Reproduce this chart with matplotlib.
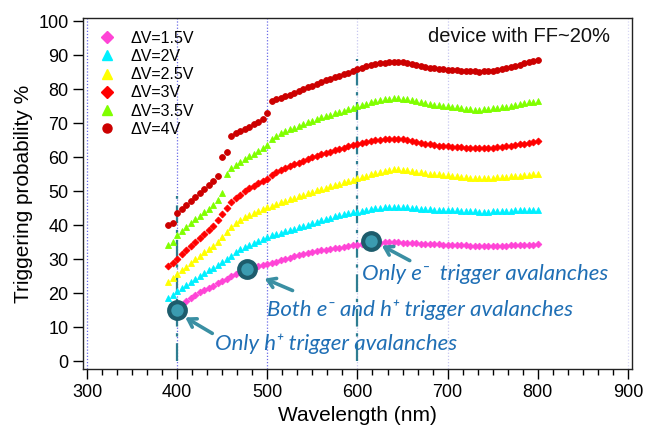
import matplotlib
matplotlib.use("Agg")
import matplotlib.pyplot as plt
from matplotlib.lines import Line2D
from matplotlib.ticker import MultipleLocator

plt.rcParams["font.family"] = ["Liberation Sans", "DejaVu Sans"]

# Wavelength grid (nm)
wavelength = list(range(390, 805, 5))
wavelength_15 = list(range(400, 805, 5))

p_1p5V = [15.0, 16.5, 17.6, 18.6, 19.5, 20.3, 21.0, 21.6, 22.2, 22.9,
          23.6, 24.3, 25.0, 25.6, 26.2, 26.8, 27.2, 27.6, 27.9, 28.2,
          28.5, 28.9, 29.3, 29.7, 30.1, 30.5, 30.8, 31.1, 31.4, 31.7,
          32.0, 32.3, 32.6, 32.8, 33.0, 33.2, 33.4, 33.6, 33.9, 34.1,
          34.3, 34.5, 34.6, 34.7, 34.8, 34.9, 35.0, 35.0, 35.0, 35.0,
          34.9, 34.9, 34.8, 34.7, 34.6, 34.5, 34.5, 34.4, 34.4, 34.3,
          34.3, 34.2, 34.2, 34.1, 34.1, 34.0, 34.0, 34.0, 33.9, 33.9,
          33.9, 34.0, 34.0, 34.0, 34.1, 34.1, 34.2, 34.2, 34.3, 34.3,
          34.4]

p_2V = [18.6, 19.6, 20.6, 21.6, 22.5, 23.4, 24.3, 25.1, 25.9, 26.7,
        27.5, 28.3, 29.1, 30.0, 31.0, 32.0, 32.9, 33.6, 34.3, 34.9,
        35.5, 36.0, 36.5, 37.0, 37.4, 37.8, 38.2, 38.6, 39.0, 39.4,
        39.8, 40.2, 40.6, 41.0, 41.4, 41.8, 42.2, 42.6, 42.9, 43.2,
        43.5, 43.8, 44.0, 44.3, 44.6, 44.8, 45.0, 45.1, 45.2, 45.3,
        45.4, 45.4, 45.3, 45.2, 45.1, 45.0, 44.9, 44.8, 44.7, 44.6,
        44.6, 44.5, 44.5, 44.4, 44.4, 44.3, 44.3, 44.2, 44.1, 44.0,
        43.9, 44.0, 44.1, 44.2, 44.2, 44.3, 44.3, 44.4, 44.4, 44.5,
        44.5, 44.6, 44.6]

p_2p5V = [23.4, 24.5, 25.6, 26.7, 27.8, 28.9, 30.0, 31.0, 32.0, 33.0,
          34.0, 35.1, 36.4, 38.0, 39.6, 40.6, 41.5, 42.3, 43.0, 43.6,
          44.2, 44.7, 45.2, 45.7, 46.2, 46.7, 47.2, 47.6, 48.1, 48.5,
          48.9, 49.4, 49.8, 50.2, 50.6, 51.0, 51.4, 51.8, 52.2, 52.6,
          53.0, 53.4, 53.8, 54.2, 54.6, 55.0, 55.4, 55.7, 56.0, 56.2,
          56.4, 56.4, 56.3, 56.1, 55.9, 55.7, 55.5, 55.3, 55.1, 55.0,
          54.9, 54.8, 54.7, 54.6, 54.5, 54.3, 54.2, 54.0, 53.9, 53.8,
          53.8, 53.9, 54.0, 54.1, 54.2, 54.3, 54.4, 54.5, 54.6, 54.7,
          54.8, 54.9, 55.0]

p_3V = [28.0, 28.8, 30.2, 31.4, 32.6, 33.8, 35.0, 36.2, 37.4, 38.6,
        39.9, 41.4, 43.2, 45.0, 46.8, 48.0, 49.0, 50.0, 50.8, 51.6,
        52.3, 53.0, 53.6, 54.8, 55.6, 56.2, 56.8, 57.4, 57.9, 58.4,
        58.9, 59.4, 59.9, 60.4, 60.8, 61.2, 61.6, 62.0, 62.4, 62.8,
        63.2, 63.6, 63.9, 64.2, 64.5, 64.7, 64.9, 65.1, 65.2, 65.3,
        65.4, 65.4, 65.3, 65.1, 64.8, 64.5, 64.2, 64.0, 63.8, 63.6,
        63.4, 63.3, 63.2, 63.1, 63.0, 62.9, 62.8, 62.7, 62.7, 62.6,
        62.6, 62.7, 62.8, 62.9, 63.0, 63.2, 63.4, 63.6, 63.8, 64.0,
        64.2, 64.4, 64.7]

p_3p5V = [34.2, 35.2, 37.0, 38.4, 39.6, 40.7, 41.8, 42.8, 43.8, 44.9,
          46.0, 47.3, 49.5, 55.0, 56.8, 57.8, 58.6, 59.4, 60.2, 61.0,
          61.8, 62.6, 63.6, 65.2, 66.2, 67.0, 67.6, 68.2, 68.7, 69.2,
          69.7, 70.2, 70.7, 71.2, 71.7, 72.1, 72.5, 72.9, 73.3, 73.7,
          74.1, 74.5, 74.9, 75.3, 75.7, 76.1, 76.5, 76.8, 77.0, 77.2,
          77.3, 77.3, 77.2, 77.0, 76.7, 76.4, 76.1, 75.8, 75.6, 75.4,
          75.2, 75.0, 74.9, 74.8, 74.6, 74.4, 74.2, 74.1, 74.0, 74.0,
          74.1, 74.2, 74.3, 74.4, 74.6, 74.8, 75.0, 75.3, 75.6, 75.9,
          76.1, 76.3, 76.6]

p_4V = [40.2, 40.5, 43.5, 44.8, 46.0, 47.1, 48.2, 49.4, 50.6, 51.8,
        53.0, 54.6, 60.0, 61.5, 66.3, 67.0, 67.6, 68.2, 68.9, 69.6,
        70.3, 71.2, 73.0, 76.5, 77.0, 77.5, 77.9, 78.4, 78.9, 79.5,
        80.0, 80.5, 81.0, 81.6, 82.2, 82.7, 83.1, 83.5, 83.9, 84.4,
        84.8, 85.3, 85.8, 86.3, 86.8, 87.2, 87.5, 87.7, 87.8, 87.9,
        88.0, 88.0, 87.9, 87.7, 87.4, 87.1, 86.8, 86.5, 86.3, 86.1,
        85.9, 85.8, 85.7, 85.6, 85.5, 85.4, 85.3, 85.2, 85.2, 85.1,
        85.2, 85.3, 85.4, 85.6, 85.8, 86.1, 86.4, 86.8, 87.2, 87.6,
        88.0, 88.3, 88.6]

labels = ["ΔV=1.5V", "ΔV=2V", "ΔV=2.5V", "ΔV=3V", "ΔV=3.5V", "ΔV=4V"]
colors = ["#ff44d6", "#00f0ff", "#ffff00", "#ff0000", "#80ff00", "#cc0000"]
markers = ["D", "^", "^", "D", "^", "o"]
marker_sizes = [3.4, 4.4, 4.4, 3.5, 4.4, 4.2]

# Highlighted points, explanatory notes and their arrows (data coordinates)
key_wavelength = [400, 478, 615]
key_value = [15.0, 27.0, 35.5]
notes = ["Only h⁺ trigger avalanches",
         "Both e⁻ and h⁺ trigger avalanches",
         "Only e⁻  trigger avalanches"]
note_xy = [(442, 5.0), (500, 15.0), (605, 25.8)]
arrow_tail = [(439, 8.2), (528, 20.8), (658, 29.6)]
arrow_head = [(409, 12.9), (497, 24.3), (627, 34.0)]

grid_x = [300, 400, 500, 600, 700, 900]
grid_colors = ["#6a6ae8", "#6a6ae8", "#6a6ae8", "#c8c8f0", "#c8c8f0", "#d8d8f4"]
dashdot_x = [400, 600]
dashdot_top = [48.7, 88.8]

fig = plt.figure(figsize=(6.45, 4.41), dpi=100)
ax = fig.add_axes([0.1287, 0.163, 0.851, 0.797])
ax.set_xlim(295.6, 904.4)
ax.set_ylim(-2.3, 101.0)

for gx, gc in zip(grid_x, grid_colors):
    ax.axvline(gx, color=gc, lw=0.9, ls=(0, (1, 1.5)), zorder=0)

for dx, top in zip(dashdot_x, dashdot_top):
    ax.plot([dx, dx], [0, top], color="#2e7d91", lw=1.6,
            ls=(0, (8, 3, 1.5, 3)), zorder=1)

series = [(wavelength_15, p_1p5V), (wavelength, p_2V), (wavelength, p_2p5V),
          (wavelength, p_3V), (wavelength, p_3p5V), (wavelength, p_4V)]
for (xs, ys), c, m, ms in zip(series, colors, markers, marker_sizes):
    ax.plot(xs, ys, ls="none", marker=m, ms=ms, color=c, mec=c, mew=0.6,
            zorder=3)

handles = [Line2D([], [], ls="none", marker=m, ms=6.5, color=c)
           for c, m in zip(colors, markers)]
ax.legend(handles, labels, loc="upper left", bbox_to_anchor=(0.004, 0.99),
          frameon=False, fontsize=11.5, handletextpad=0.75, labelspacing=0.2,
          borderaxespad=0.2, handlelength=1.5)

ax.text(0.96, 0.945, "device with FF~20%", transform=ax.transAxes,
        ha="right", va="center", fontsize=14.5, color="#111111")

ax.plot(key_wavelength, key_value, ls="none", marker="o", ms=12,
        mfc="#3b9bb0", mec="#1d5c6c", mew=3, zorder=5)

for (tx, ty), (hx, hy) in zip(arrow_tail, arrow_head):
    ax.annotate("", xy=(hx, hy), xytext=(tx, ty),
                arrowprops=dict(arrowstyle="->,head_length=0.55,head_width=0.35",
                                color="#3a8fa3", lw=2.6, shrinkA=0, shrinkB=0),
                zorder=4)

for txt, (nx, ny) in zip(notes, note_xy):
    ax.text(nx, ny, txt, fontsize=16, style="italic", color="#1f6fb5",
            family=["Lato", "DejaVu Sans"], va="center", ha="left")

ax.set_xlabel("Wavelength (nm)", fontsize=15)
ax.set_ylabel("Triggering probability %", fontsize=15)
ax.xaxis.set_major_locator(MultipleLocator(100))
ax.xaxis.set_minor_locator(MultipleLocator(100 / 6))
ax.yaxis.set_major_locator(MultipleLocator(10))
ax.tick_params(axis="both", which="major", labelsize=13, direction="out",
               length=7, width=1)
ax.tick_params(axis="x", which="minor", direction="out", length=4, width=1)
ax.tick_params(top=False, right=False)
for s in ax.spines.values():
    s.set_color("#222222")
    s.set_linewidth(1.0)

fig.savefig("out.png", dpi=100)
